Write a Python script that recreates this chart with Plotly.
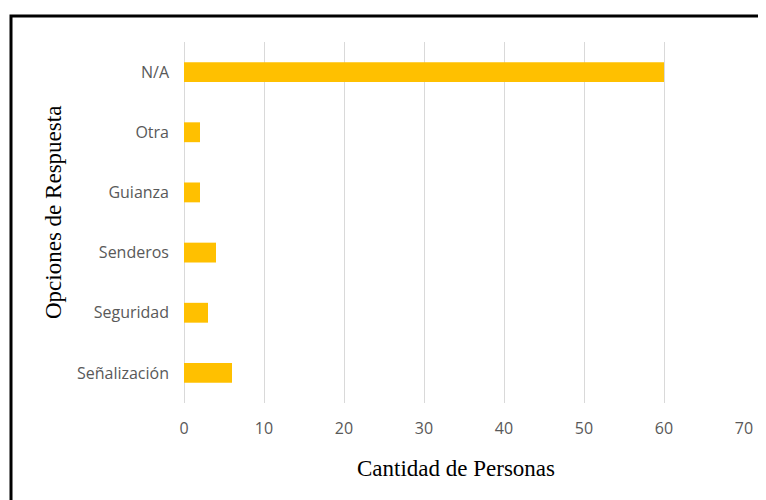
import plotly.graph_objects as go

categories = ["Señalización", "Seguridad", "Senderos", "Guianza", "Otra", "N/A"]
values = [6, 3, 4, 2, 2, 60]
x_ticks = [0, 10, 20, 30, 40, 50, 60, 70]

# page offset of the figure (body margin)
OFF = 8
W, H = 766 - OFF, 500 - OFF
L, T = 184 - OFF, 42 - OFF
R = W - (744 - OFF)
B = H - (403 - OFF)
pw, ph = W - L - R, H - T - B

def px_x(p):
    return (p - OFF - L) / pw

def px_y(p):
    return (H - B - (p - OFF)) / ph

fig = go.Figure(go.Bar(
    x=values, y=categories, orientation="h",
    marker=dict(color="#FFC000", line=dict(width=0)),
    hoverinfo="x+y",
))

title_font = dict(family="Liberation Serif", size=23, color="#000000")

fig.update_layout(
    width=W, height=H,
    margin=dict(l=L, r=R, t=T, b=B),
    paper_bgcolor="white", plot_bgcolor="white",
    bargap=0.67,
    showlegend=False,
    font=dict(family="Open Sans", color="#595959", size=16),
    xaxis=dict(
        range=[0, 70], tickvals=x_ticks, showgrid=True, gridcolor="#D9D9D9", gridwidth=1,
        zeroline=True, zerolinecolor="#D9D9D9", zerolinewidth=1, showline=False,
        ticks="", ticklabelstandoff=14, tickfont=dict(size=16, color="#595959"),
    ),
    yaxis=dict(
        categoryorder="array", categoryarray=categories, showgrid=False, showline=False,
        ticks="", ticklabelstandoff=14, tickfont=dict(size=16, color="#595959"),
    ),
    annotations=[
        dict(text="Cantidad de Personas", xref="paper", yref="paper",
             x=px_x(456), y=px_y(468), xanchor="center", yanchor="middle",
             showarrow=False, font=title_font),
        dict(text="Opciones de Respuesta", xref="paper", yref="paper",
             x=px_x(53), y=px_y(213), xanchor="center", yanchor="middle",
             textangle=-90, showarrow=False, font=title_font),
    ],
    shapes=[
        dict(type="rect", xref="paper", yref="paper",
             x0=px_x(11), x1=px_x(790), y0=px_y(16), y1=px_y(520),
             line=dict(color="#000000", width=3), fillcolor="rgba(0,0,0,0)", layer="above"),
    ],
)

fig.write_html("out.html")
